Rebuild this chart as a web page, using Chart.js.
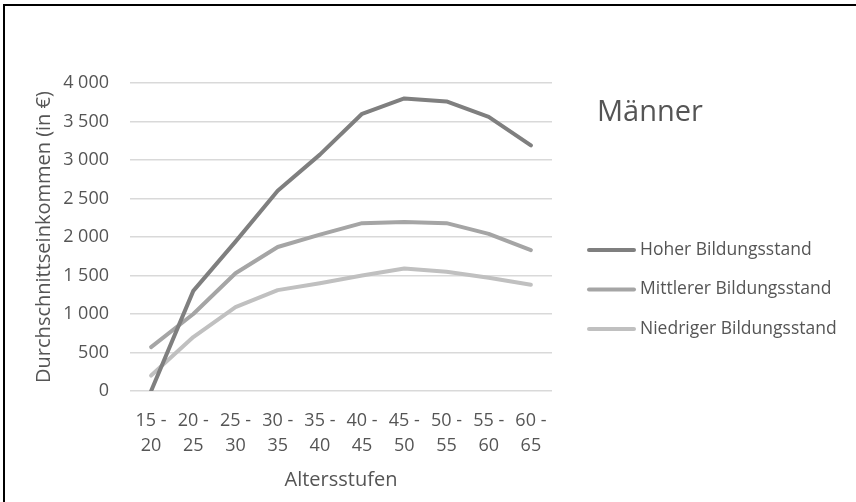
<!DOCTYPE html>
<html lang="de">
<head>
  <meta charset="UTF-8" />
  <title>Männer – Durchschnittseinkommen</title>
  <script src="https://cdn.jsdelivr.net/npm/chart.js"></script>
  <style>
    html, body { margin: 0; padding: 0; background: #fff; }
    #wrap { position: relative; width: 856px; height: 502px; overflow: hidden; }
    #frame {
      position: absolute; left: 3px; top: 4px; width: 900px; height: 600px;
      border: 2px solid #000; box-sizing: border-box;
    }
    #chart { position: absolute; left: 0; top: 0; }
  </style>
</head>
<body>
<div id="wrap">
  <div id="frame"></div>
  <canvas id="chart" width="856" height="502"></canvas>
</div>
<script>
  const categories = ["15 - 20", "20 - 25", "25 - 30", "30 - 35", "35 - 40",
                      "40 - 45", "45 - 50", "50 - 55", "55 - 60", "60 - 65"];
  const hoher = [0, 1300, 1940, 2600, 3070, 3600, 3800, 3760, 3560, 3190];
  const mittlerer = [570, 1000, 1530, 1870, 2030, 2180, 2195, 2180, 2040, 1830];
  const niedriger = [200, 700, 1090, 1310, 1400, 1500, 1590, 1550, 1470, 1380];
  const yTicks = [0, 500, 1000, 1500, 2000, 2500, 3000, 3500, 4000];

  const FONT = "'Open Sans', sans-serif";
  const TEXT = "#555555";

  function fmt(v) {
    if (v < 1000) return String(v);
    return Math.floor(v / 1000) + " " + String(v % 1000).padStart(3, "0");
  }

  // title + legend on the right, like the Excel original
  const sideLegend = {
    id: "sideLegend",
    afterDraw(chart) {
      const ctx = chart.ctx;
      ctx.save();
      ctx.fillStyle = TEXT;
      ctx.textBaseline = "middle";
      ctx.textAlign = "left";
      ctx.font = "29px " + FONT;
      ctx.fillText("Männer", 597, 113);
      ctx.font = "17.5px " + FONT;
      chart.data.datasets.forEach((ds, i) => {
        const y = 250 + i * 39.5;
        ctx.strokeStyle = ds.borderColor;
        ctx.lineWidth = 4;
        ctx.lineCap = "round";
        ctx.beginPath();
        ctx.moveTo(589, y);
        ctx.lineTo(634, y);
        ctx.stroke();
        ctx.fillText(ds.label, 640, y);
      });
      ctx.restore();
    }
  };

  const line = (label, data, color) => ({
    label, data,
    borderColor: color,
    backgroundColor: color,
    borderWidth: 4,
    borderCapStyle: "round",
    borderJoinStyle: "round",
    pointRadius: 0,
    tension: 0
  });

  new Chart(document.getElementById("chart"), {
    type: "line",
    data: {
      labels: categories,
      datasets: [
        line("Hoher Bildungsstand", hoher, "#7f7f7f"),
        line("Mittlerer Bildungsstand", mittlerer, "#a5a5a5"),
        line("Niedriger Bildungsstand", niedriger, "#c0c0c0")
      ]
    },
    options: {
      responsive: false,
      animation: false,
      devicePixelRatio: 1,
      layout: { padding: { top: 83, right: 304, left: 0, bottom: 0 } },
      plugins: {
        legend: { display: false },
        tooltip: { enabled: false }
      },
      scales: {
        x: {
          offset: true,
          grid: { display: false },
          border: { display: false },
          afterFit(s) { s.height = 111; },
          ticks: {
            color: TEXT,
            padding: 10,
            maxRotation: 0,
            autoSkip: false,
            font: { family: FONT, size: 18, lineHeight: 1.35 },
            callback(v) {
              const parts = categories[v].split(" - ");
              return [parts[0] + " -", parts[1]];
            }
          },
          title: {
            display: true,
            text: "Altersstufen",
            color: TEXT,
            padding: { top: 0, bottom: 10 },
            font: { family: FONT, size: 20, lineHeight: 1.2 }
          }
        },
        y: {
          min: 0,
          max: 4000,
          afterFit(s) { s.width = 130; },
          afterBuildTicks(s) { s.ticks = yTicks.map(v => ({ value: v })); },
          grid: { color: "#d9d9d9", lineWidth: 1.5, drawTicks: false },
          border: { display: false },
          ticks: {
            color: TEXT,
            padding: 21,
            font: { family: FONT, size: 18 },
            callback: v => fmt(v)
          },
          title: {
            display: true,
            text: "Durchschnittseinkommen (in €)",
            color: TEXT,
            padding: { top: 32, bottom: 0 },
            font: { family: FONT, size: 20, lineHeight: 1.2 }
          }
        }
      }
    },
    plugins: [sideLegend]
  });
</script>
</body>
</html>
